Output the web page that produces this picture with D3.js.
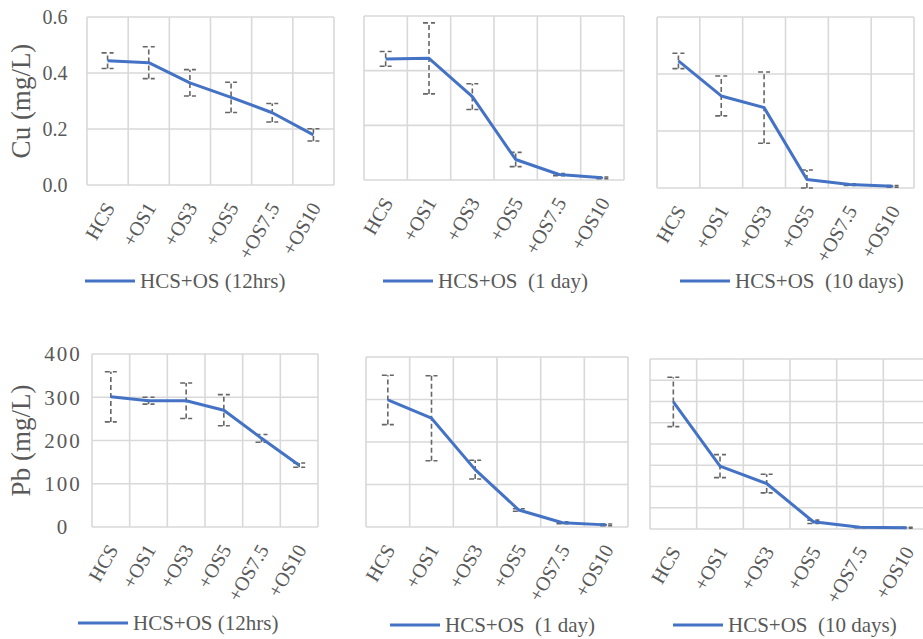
<!DOCTYPE html>
<html>
<head>
<meta charset="utf-8">
<script src="https://cdn.jsdelivr.net/npm/d3@7"></script>
<style>
  body { margin: 0; background: #fff; }
  svg text { font-family: 'Liberation Serif', 'DejaVu Serif', serif; fill: #595959; }
</style>
</head>
<body>
<div id="chart"></div>
<script>
// categories on the x axis
var categories = ["HCS", "+OS1", "+OS3", "+OS5", "+OS7.5", "+OS10"];

// Cu (mg/L), mean and error
var cu12hrs    = [0.444, 0.437, 0.365, 0.313, 0.258, 0.179];
var cu12hrsErr = [0.028, 0.057, 0.047, 0.054, 0.033, 0.022];
var cu1day     = [0.443, 0.445, 0.305, 0.075, 0.020, 0.008];
var cu1dayErr  = [0.027, 0.130, 0.047, 0.026, 0.004, 0.003];
var cu10days   = [0.446, 0.323, 0.282, 0.030, 0.012, 0.006];
var cu10daysErr= [0.027, 0.070, 0.125, 0.033, 0.003, 0.003];

// Pb (mg/L), mean and error
var pb12hrs    = [301, 292, 292, 270, 205, 143];
var pb12hrsErr = [58, 8, 41, 36, 9, 5];
var pb1day     = [299, 256, 135, 40, 10, 5];
var pb1dayErr  = [58, 100, 22, 3, 2, 2];
var pb10days   = [299, 148, 107, 17, 4, 3];
var pb10daysErr= [58, 27, 22, 4, 1, 1];

var cuTicks = [0, 0.2, 0.4, 0.6];
var pbTicks = [0, 100, 200, 300, 400];
var pbTicksFine = [0, 50, 100, 150, 200, 250, 300, 350, 400];

var legendNames = ["HCS+OS (12hrs)", "HCS+OS  (1 day)", "HCS+OS  (10 days)"];

var serif = "'Liberation Serif', 'DejaVu Serif', serif";
var W = 923, H = 639;
var svg = d3.select("#chart").append("svg")
  .attr("width", W).attr("height", H)
  .attr("font-family", serif);

// layout of the six panels
var panels = [
  {vals: cu12hrs, err: cu12hrsErr, ticks: cuTicks, left: 87,  right: 334, top: 17,  bottom: 185, labels: true,  fmt: d3.format(".1f"), title: "Cu (mg/L)", legend: legendNames[0], lx: 85,  ly: 281},
  {vals: cu1day,  err: cu1dayErr,  ticks: cuTicks, left: 364, right: 624, top: 16,  bottom: 180, labels: false, legend: legendNames[1], lx: 383, ly: 281},
  {vals: cu10days,err: cu10daysErr,ticks: cuTicks, left: 657, right: 914, top: 17,  bottom: 188, labels: false, legend: legendNames[2], lx: 680, ly: 281},
  {vals: pb12hrs, err: pb12hrsErr, ticks: pbTicks, left: 92,  right: 318, top: 354, bottom: 527, labels: true,  fmt: d3.format("d"), title: "Pb (mg/L)", legend: legendNames[0], lx: 78,  ly: 623},
  {vals: pb1day,  err: pb1dayErr,  ticks: pbTicks, left: 366, right: 628, top: 357, bottom: 527, labels: false, legend: legendNames[1], lx: 390, ly: 625},
  {vals: pb10days,err: pb10daysErr,ticks: pbTicksFine, left: 650, right: 930, top: 359, bottom: 529, labels: false, legend: legendNames[2], lx: 673, ly: 625}
];

panels.forEach(function(p, pi) {
  var g = svg.append("g");

  var x = d3.scaleBand().domain(categories).range([p.left, p.right]);
  var y = d3.scaleLinear().domain([0, d3.max(p.ticks)]).range([p.bottom, p.top]);

  // horizontal gridlines
  g.selectAll(".hg").data(p.ticks).enter().append("line")
    .attr("x1", p.left).attr("x2", p.right)
    .attr("y1", function(d) { return y(d); })
    .attr("y2", function(d) { return y(d); })
    .style("stroke", "#d9d9d9").style("stroke-width", 1.6);

  // vertical gridlines
  var edges = categories.map(function(c) { return x(c); }).concat([p.right]);
  g.selectAll(".vg").data(edges).enter().append("line")
    .attr("x1", function(d) { return d; }).attr("x2", function(d) { return d; })
    .attr("y1", p.top).attr("y2", p.bottom)
    .style("stroke", "#d9d9d9").style("stroke-width", 1.6);

  // y tick labels (first column only)
  if (p.labels) {
    var isPb = pi === 3;
    g.selectAll(".yl").data(p.ticks).enter().append("text")
      .attr("x", isPb ? 63 : 55)
      .attr("y", function(d) { return y(d); })
      .attr("dy", "0.35em")
      .attr("text-anchor", "middle")
      .style("font-family", serif)
      .style("font-size", isPb ? "21px" : "20px")
      .style("letter-spacing", isPb ? "2px" : "0px")
      .text(function(d) { return p.fmt(d); });

    svg.append("text")
      .attr("transform", "translate(30," + ((p.top + p.bottom) / 2) + ") rotate(-90)")
      .attr("text-anchor", "middle")
      .style("font-family", serif)
      .style("font-size", "27px")
      .text(p.title);
  }

  // x tick labels, rotated
  g.selectAll(".xl").data(categories).enter().append("text")
    .attr("transform", function(d) {
      return "translate(" + (x(d) + x.bandwidth() / 2 + 2) + "," + (p.bottom + 19) + ") rotate(-60)";
    })
    .attr("text-anchor", "end")
    .attr("dy", "0.35em")
    .style("font-family", serif)
    .style("font-size", "20px")
    .text(function(d) { return d; });

  var cx = function(i) { return x(categories[i]) + x.bandwidth() / 2; };

  // error bars
  var eb = g.selectAll(".eb").data(p.vals).enter().append("g");
  eb.append("line")
    .attr("x1", function(d, i) { return cx(i); })
    .attr("x2", function(d, i) { return cx(i); })
    .attr("y1", function(d, i) { return y(Math.max(0, d - p.err[i])); })
    .attr("y2", function(d, i) { return y(d + p.err[i]); });
  eb.append("line")
    .attr("x1", function(d, i) { return cx(i) - 6; })
    .attr("x2", function(d, i) { return cx(i) + 6; })
    .attr("y1", function(d, i) { return y(d + p.err[i]); })
    .attr("y2", function(d, i) { return y(d + p.err[i]); });
  eb.append("line")
    .attr("x1", function(d, i) { return cx(i) - 6; })
    .attr("x2", function(d, i) { return cx(i) + 6; })
    .attr("y1", function(d, i) { return y(Math.max(0, d - p.err[i])); })
    .attr("y2", function(d, i) { return y(Math.max(0, d - p.err[i])); });
  eb.selectAll("line")
    .style("stroke", "#666666")
    .style("stroke-width", 1.6)
    .style("stroke-dasharray", "5,3");

  // the series line
  var line = d3.line()
    .x(function(d, i) { return cx(i); })
    .y(function(d) { return y(d); });
  g.append("path")
    .datum(p.vals)
    .attr("d", line)
    .style("fill", "none")
    .style("stroke", "#4472C4")
    .style("stroke-width", 3)
    .style("stroke-linejoin", "round");

  // legend
  g.append("line")
    .attr("x1", p.lx).attr("x2", p.lx + 50)
    .attr("y1", p.ly).attr("y2", p.ly)
    .style("stroke", "#4472C4").style("stroke-width", 3);
  g.append("text")
    .attr("x", p.lx + 55).attr("y", p.ly)
    .attr("dy", "0.35em")
    .attr("xml:space", "preserve")
    .style("white-space", "pre")
    .style("font-family", serif)
    .style("font-size", "21px")
    .text(p.legend);
});
</script>
</body>
</html>
